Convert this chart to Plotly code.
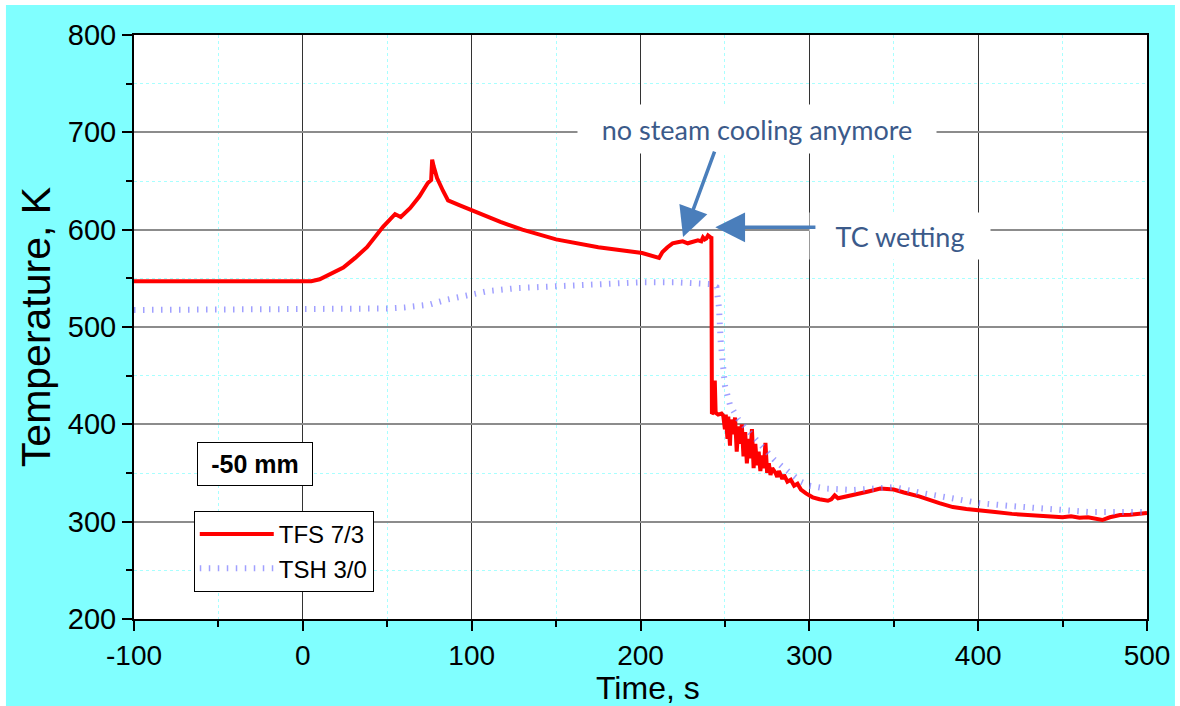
import plotly.graph_objects as go

# TFS 7/3 thermocouple trace (time in s, temperature in K)
tfs_time = [-100, 0, 5, 10, 16, 24, 31, 38, 47.5, 54.6, 58, 63.5, 69, 74, 76, 76.6, 77.5,
            79.5, 83, 86, 93, 101, 117, 130, 150, 175, 201, 211, 213, 216, 219, 222, 225,
            228, 231, 234, 236, 237, 238, 239, 240, 241.5, 242,
            242.3, 243, 243.5, 244, 244.5, 246, 248, 249, 250, 250.5, 251.5, 252, 253,
            253.5, 255, 256, 257, 258, 259, 260, 261, 262, 263, 264, 265, 266, 267, 268,
            269, 270, 271, 272, 273, 274, 275, 276, 277, 278, 280, 281, 282, 284, 285,
            287, 289, 291, 293, 295, 298, 302, 306, 311, 313, 315, 317, 320, 325, 330,
            335, 342, 350, 356, 365, 377, 385, 393, 401, 410, 420, 435, 445, 450, 455,
            460, 465, 470, 473.5, 478, 484, 490, 495, 500]
tfs_temp = [547, 547, 547, 549, 554, 561, 571, 582, 603, 616, 613, 622, 634, 648, 651, 672, 665,
            653, 640, 630, 625, 619, 608, 600, 590, 582, 576, 571, 577, 582, 586, 587, 588,
            586, 587, 589, 588, 592, 590, 591, 594, 592, 593,
            411, 412, 440, 445, 412, 410, 411, 409, 395, 410, 385, 408, 378,
            405, 390, 407, 372, 398, 380, 400, 367, 392, 360, 385, 365, 395, 355, 380,
            358, 372, 352, 368, 355, 381, 350, 360, 348, 355, 350, 346, 352, 344, 348,
            341, 343, 337, 339, 333, 329, 325, 323, 321.5, 323, 327, 324, 325, 327, 329,
            331, 334, 333, 330, 326, 319, 315, 313, 312, 310, 308, 306, 305, 304.6, 305.5,
            304, 304.5, 303, 301.7, 304.5, 306.8, 307, 308, 309]

# TSH 3/0 thermocouple trace
tsh_time = [-100, 0, 36, 50, 60, 75, 85, 95, 110, 127, 150, 175, 201, 220, 235, 242, 245,
            246.5, 247.5, 248.5, 250, 253, 258, 263, 268, 273, 279, 285, 290, 295, 300,
            310, 326, 340, 350, 365, 376, 390, 401, 420, 435, 450, 465, 480, 500]
tsh_temp = [517.5, 517.5, 518, 519, 520, 523, 528, 532, 537, 540, 542, 545, 546, 546, 545,
            544, 541, 520, 485, 460, 440, 420, 405, 395, 385, 374, 364, 355, 347, 341, 337,
            334, 332.5, 334, 335.5, 330, 327, 323, 319, 316, 314, 312, 310, 310, 310]

x_ticks = [-100, 0, 100, 200, 300, 400, 500]
x_labels = ["-100", "0", "100", "200", "300", "400", "500"]
y_ticks = [200, 300, 400, 500, 600, 700, 800]
y_labels = ["200", "300", "400", "500", "600", "700", "800"]

ARIAL = "Liberation Sans, Arial, sans-serif"
NOTE = "Lato, Open Sans, sans-serif"
NOTE_COLOR = "#3b5a8a"
ARROW_COLOR = "#4a7ebb"
PAGE = "#80ffff"

fig = go.Figure()

fig.add_trace(go.Scatter(
    x=tfs_time, y=tfs_temp, mode="lines", name="TFS 7/3",
    line=dict(color="#ff0000", width=4),
))
fig.add_trace(go.Scatter(
    x=tsh_time, y=tsh_temp, mode="lines", name="TSH 3/0",
    line=dict(color="rgba(120,120,255,0.7)", width=6, dash="1.5px,7.5px"),
))

axis_common = dict(
    showline=True, linecolor="black", linewidth=2, mirror=True,
    ticks="outside", ticklen=10, tickwidth=1.5, tickcolor="black",
    zeroline=False, showgrid=True,
)

fig.update_xaxes(
    range=[-100, 500], tickvals=x_ticks, ticktext=x_labels, gridcolor="#333333", gridwidth=1,
    tickfont=dict(family=ARIAL, size=28, color="black"),
    minor=dict(dtick=50, tick0=-100, ticks="outside", ticklen=6, tickcolor="black",
               showgrid=True, gridcolor="#a8ffff", griddash="dot", gridwidth=1),
    **axis_common,
)
fig.update_yaxes(
    range=[200, 800], tickvals=y_ticks, ticktext=y_labels, gridcolor="#8c8c8c", gridwidth=2,
    tickfont=dict(family=ARIAL, size=29, color="black"),
    title=dict(text="Temperature, K", font=dict(family=ARIAL, size=41, color="black"), standoff=4),
    minor=dict(dtick=50, tick0=200, ticks="outside", ticklen=6, tickcolor="black",
               showgrid=True, gridcolor="#a8ffff", griddash="dot", gridwidth=1),
    **axis_common,
)

# X axis title, set just below the tick labels
fig.add_annotation(x=0.507, y=-0.1524, xref="paper", yref="paper", xanchor="center",
                   yanchor="bottom", text="Time, s", showarrow=False,
                   font=dict(family=ARIAL, size=32, color="black"))

# Thin white rim around the cyan page (top, left, right)
for x0, x1, y0, y1 in [(-0.2, 1.1, 1.0514, 1.1), (-0.2, -0.1264, -0.2, 1.1), (1.0276, 1.1, -0.2, 1.1)]:
    fig.add_shape(type="rect", xref="paper", yref="paper", layer="above",
                  x0=x0, x1=x1, y0=y0, y1=y1, fillcolor="white", line=dict(width=0))

# Text callouts
fig.add_annotation(x=(-100 + (757 - 134) / 1.6883), y=800 - (129 - 35) / 0.9733,
                   xref="x", yref="y", text="no steam cooling anymore", showarrow=False,
                   font=dict(family=NOTE, size=27, color=NOTE_COLOR),
                   bgcolor="white", width=350, height=40, borderpad=4)
fig.add_annotation(x=(-100 + (900 - 134) / 1.6883), y=800 - (236 - 35) / 0.9733,
                   xref="x", yref="y", text="TC wetting", showarrow=False,
                   font=dict(family=NOTE, size=27, color=NOTE_COLOR),
                   bgcolor="white", width=172, height=38, borderpad=4)

# Arrows
fig.add_annotation(x=225.2, y=592.4, ax=244.2, ay=681.8, xref="x", yref="y",
                   axref="x", ayref="y", text="", showarrow=True,
                   arrowhead=2, arrowsize=1.7, arrowwidth=3.5, arrowcolor=ARROW_COLOR,
                   standoff=0)
fig.add_annotation(x=244.3, y=602.4, ax=304.5, ay=602.4, xref="x", yref="y",
                   axref="x", ayref="y", text="", showarrow=True,
                   arrowhead=2, arrowsize=1.7, arrowwidth=3.5, arrowcolor=ARROW_COLOR,
                   standoff=0)

# Position label
fig.add_annotation(x=-28.3, y=359, xref="x", yref="y", text="<b>-50 mm</b>",
                   showarrow=False, font=dict(family=ARIAL, size=25, color="black"),
                   bgcolor="white", bordercolor="black", borderwidth=1, borderpad=7,
                   width=100, height=28)

fig.update_layout(
    width=1180, height=706,
    margin=dict(l=134, r=33, t=35, b=87, autoexpand=False),
    paper_bgcolor=PAGE, plot_bgcolor="white",
    showlegend=True,
    legend=dict(x=0.059, y=0.185, xanchor="left", yanchor="top",
                bgcolor="white", bordercolor="black", borderwidth=1,
                font=dict(family=ARIAL, size=24, color="black"),
                itemwidth=74, tracegroupgap=0),
)

fig.write_html("out.html")
